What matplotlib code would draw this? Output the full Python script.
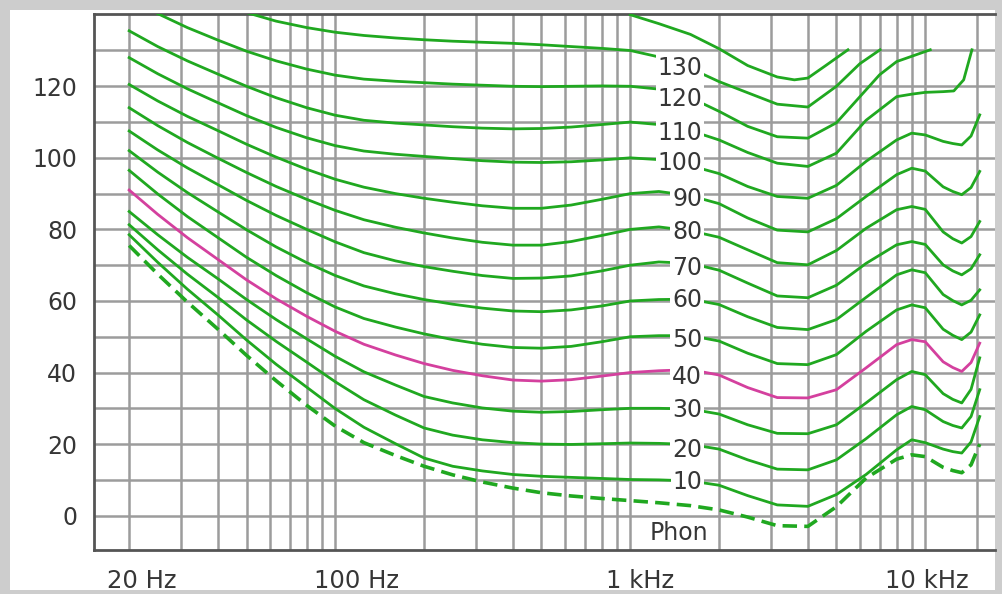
import matplotlib
matplotlib.use("Agg")
import matplotlib.pyplot as plt
import matplotlib.ticker as ticker
from matplotlib.patches import Rectangle
from matplotlib.transforms import ScaledTranslation

# frequency grid (Hz) shared by most contours
freq = [20, 25, 31.5, 40, 50, 63, 80, 100, 125, 160, 200, 250, 315, 400, 500,
        630, 800, 1000, 1250, 1600, 2000, 2500, 3150, 4000, 5000, 6300, 8000,
        9000, 10000, 11500, 12400, 13300, 14300, 15300]

threshold = [75.5, 67.5, 59.7, 52.1, 44.8, 37.7, 30.8, 25.0, 20.4, 16.8, 13.8, 11.4, 9.4, 7.7, 6.4,
             5.5, 4.8, 4.2, 3.6, 2.8, 1.6, -0.4, -2.8, -3.0, 2.5, 10.5, 15.8,
             17.0, 16.5, 13.5, 12.6, 12.0, 14.2, 20.0]
phon_10 = [78.5, 70.8, 63.3, 56.1, 49.1, 42.3, 35.9, 29.9, 24.7, 20.1, 16.1, 13.8, 12.5, 11.5, 11.0,
           10.7, 10.4, 10.1, 10.0, 9.7, 8.5, 5.6, 3.0, 2.6, 5.9, 11.5, 18.4,
           21.2, 20.4, 18.6, 17.9, 17.5, 20.6, 27.7]
phon_20 = [81.3, 74.3, 67.5, 61.0, 54.7, 48.7, 42.9, 37.4, 32.4, 28.1, 24.5, 22.5, 21.2, 20.4, 20.0,
           19.9, 20.1, 20.3, 20.2, 19.9, 18.6, 15.6, 13.0, 12.8, 15.6, 21.5, 28.2,
           30.5, 29.6, 26.3, 25.2, 24.5, 27.7, 35.2]
phon_30 = [85.0, 78.5, 72.2, 66.2, 60.4, 54.8, 49.4, 44.5, 40.2, 36.5, 33.3, 31.5, 30.1, 29.2, 28.9,
           29.1, 29.6, 30.0, 30.0, 29.8, 28.4, 25.4, 23.0, 22.9, 25.4, 31.5, 38.0,
           40.3, 39.4, 34.1, 32.5, 31.5, 35.3, 44.1]
phon_40 = [91.0, 84.2, 77.7, 71.6, 65.9, 60.6, 55.7, 51.5, 47.9, 44.9, 42.5, 40.6, 39.1, 37.9, 37.6,
           38.0, 39.0, 40.0, 40.5, 40.8, 39.3, 35.8, 33.0, 32.9, 35.2, 41.3, 47.8,
           49.2, 48.6, 43.0, 41.4, 40.3, 42.8, 48.2]
phon_50 = [96.5, 89.9, 83.6, 77.7, 72.2, 67.1, 62.3, 58.3, 55.1, 52.7, 50.8, 49.2, 47.9, 47.0, 46.8,
           47.3, 48.6, 50.0, 50.3, 50.3, 48.8, 45.4, 42.5, 42.2, 45.0, 51.5, 57.5,
           58.9, 58.1, 52.1, 50.4, 49.2, 51.3, 56.1]
phon_60 = [102.0, 96.0, 90.3, 84.9, 79.9, 75.1, 70.7, 67.1, 64.2, 62.0, 60.4, 59.1, 58.0, 57.2, 57.0,
           57.5, 58.6, 60.0, 60.4, 60.5, 59.0, 55.6, 52.6, 52.0, 54.8, 61.0, 67.3,
           68.7, 67.9, 61.8, 60.1, 58.9, 60.2, 63.1]
phon_70 = [107.5, 102.2, 97.2, 92.5, 88.1, 83.9, 80.0, 76.5, 73.5, 71.2, 69.6, 68.3, 67.1, 66.3, 66.4,
           67.0, 68.4, 70.0, 70.9, 70.5, 68.6, 65.0, 61.4, 60.9, 64.4, 70.5, 75.7,
           76.6, 75.8, 70.1, 68.4, 67.3, 69.0, 72.9]
phon_80 = [114.0, 109.0, 104.3, 99.9, 95.9, 92.0, 88.4, 85.3, 82.7, 80.6, 79.0, 77.6, 76.4, 75.6, 75.6,
           76.6, 78.3, 80.0, 80.7, 79.6, 77.8, 74.3, 70.7, 70.1, 74.1, 80.3, 85.5,
           86.4, 85.6, 79.3, 77.4, 76.2, 78.0, 82.2]
phon_90 = [120.5, 115.9, 111.6, 107.6, 103.8, 100.2, 96.8, 94.0, 91.8, 90.0, 88.7, 87.6, 86.6, 85.9, 85.9,
           86.8, 88.4, 90.0, 90.6, 89.4, 87.2, 83.2, 79.8, 79.3, 83.0, 89.2, 95.3,
           97.1, 96.3, 91.9, 90.6, 89.7, 91.7, 96.2]
phon_100 = [128.0, 123.5, 119.3, 115.4, 111.8, 108.5, 105.6, 103.4, 101.9, 101.0, 100.4, 99.8, 99.2, 98.8, 98.7,
            98.9, 99.4, 100.0, 99.5, 97.8, 95.6, 92.0, 89.2, 88.7, 92.3, 99.0, 105.0,
            106.9, 106.4, 104.6, 104.0, 103.6, 106.1, 112.0]

freq_110 = [20, 25, 31.5, 40, 50, 63, 80, 100, 125, 160, 200, 250, 315, 400, 500,
            630, 800, 1000, 1250, 1600, 2000, 2500, 3150, 4000, 5000, 6300, 8000,
            9000, 10000, 11500, 12500, 13500, 14400]
phon_110 = [135.5, 131.1, 127.1, 123.4, 120.0, 116.8, 114.0, 111.9, 110.5, 109.7, 109.2, 108.7, 108.3, 108.1, 108.2,
            108.6, 109.3, 110.0, 109.3, 107.6, 105.0, 101.5, 98.5, 97.6, 101.3, 110.5, 117.1,
            117.8, 118.3, 118.5, 118.7, 121.8, 130.2]

freq_120 = [25, 31.5, 40, 50, 63, 80, 100, 125, 160, 200, 250, 315, 400, 500, 630, 800,
            1000, 1250, 1600, 2000, 2500, 3150, 4000, 5000, 6300, 7000, 8000, 10400]
phon_120 = [140.3, 136.4, 132.9, 129.8, 127.1, 124.8, 123.1, 122.0, 121.4, 121.0, 120.6, 120.3, 120.0, 119.9, 120.0, 120.1,
            120.0, 119.2, 116.8, 113.0, 108.8, 105.9, 105.5, 109.8, 119.0, 123.2, 126.9, 130.2]

freq_130 = [50, 63, 80, 100, 125, 160, 200, 250, 315, 400, 500, 630, 800, 1000,
            1250, 1600, 2000, 2500, 3150, 4000, 5000, 6000, 7030]
phon_130 = [140.6, 138.2, 136.4, 135.1, 134.2, 133.5, 133.0, 132.6, 132.3, 132.0, 131.6, 131.1, 130.6, 130.0,
            128.2, 125.0, 121.3, 118.2, 115.0, 114.2, 120.0, 126.3, 130.2]

freq_140 = [1000, 1250, 1600, 2000, 2500, 3150, 3600, 4000, 4600, 5470]
phon_140 = [140.0, 137.5, 134.5, 130.5, 125.8, 122.6, 121.8, 122.3, 125.8, 130.2]

label_text = ["130", "120", "110", "100", "90", "80", "70", "60", "50", "40", "30", "20", "10"]
label_db = [125.1, 116.5, 107.0, 98.6, 88.5, 79.3, 69.3, 60.3, 49.2, 38.8, 29.6, 18.4, 9.5]

x_ticks = [20, 100, 1000, 10000]
x_ticklabels = ["20 Hz", "100 Hz", "1 kHz", "10 kHz"]
x_label_shift = [13, 21, 10, 2]   # px, labels sit a bit right of their gridline
grid_freqs = ([f for f in range(20, 100, 10)] + [f for f in range(100, 1000, 100)] +
              [f for f in range(1000, 10000, 1000)] + [10000, 15000])

GREEN = "#20a820"
MAGENTA = "#d4409e"
GRID = "#9c9c9c"
TEXT = "#363636"

plt.rcParams['font.family'] = ['DejaVu Sans']

fig = plt.figure(figsize=(10.02, 5.94), dpi=100)
fig.patch.set_facecolor("#cdcdcd")
fig.add_artist(Rectangle((10 / 1002, 4 / 594), 985 / 1002, 580 / 594,
                         transform=fig.transFigure, facecolor="white",
                         edgecolor="none", zorder=-5))

ax = fig.add_axes([94 / 1002, 44 / 594, 901 / 1002, 536 / 594])
ax.set_zorder(2)
ax.set_facecolor("white")
ax.set_xscale("log")
ax.set_xlim(15.2, 17240)
ax.set_ylim(-9.6, 140.2)

# grid
for f in grid_freqs:
    ax.axvline(f, color=GRID, lw=1.8, zorder=1)
for db in range(0, 140, 10):
    ax.axhline(db, color=GRID, lw=1.8, zorder=1)

# contours
curves = [
    (freq_140, phon_140), (freq_130, phon_130), (freq_120, phon_120),
    (freq_110, phon_110), (freq, phon_100), (freq, phon_90), (freq, phon_80),
    (freq, phon_70), (freq, phon_60), (freq, phon_50), (freq, phon_30),
    (freq, phon_20), (freq, phon_10),
]
for fx, vals in curves:
    ax.plot(fx, vals, color=GREEN, lw=2.0, zorder=3, solid_joinstyle="round")
ax.plot(freq, phon_40, color=MAGENTA, lw=2.0, zorder=3, solid_joinstyle="round")
ax.plot(freq, threshold, color=GREEN, lw=2.6, ls=(0, (4, 2)), zorder=3)

# phon labels
for txt, db in zip(label_text, label_db):
    ax.text(1751, db, txt, ha="right", va="center", fontsize=17, color=TEXT,
            zorder=4, bbox=dict(facecolor="white", edgecolor="none", pad=1.2))
ax.text(1464, -4.75, "Phon", ha="center", va="center", fontsize=17, color=TEXT, zorder=4)

# axes styling
ax.xaxis.set_major_locator(ticker.FixedLocator(x_ticks))
ax.xaxis.set_major_formatter(ticker.FixedFormatter(x_ticklabels))
ax.xaxis.set_minor_locator(ticker.NullLocator())
ax.yaxis.set_major_locator(ticker.FixedLocator([0, 20, 40, 60, 80, 100, 120]))
ax.tick_params(axis="both", length=0, colors=TEXT)
ax.tick_params(axis="y", pad=12, labelsize=17)
ax.tick_params(axis="x", pad=14, labelsize=17.5)
for lab, dx in zip(ax.get_xticklabels(), x_label_shift):
    lab.set_transform(lab.get_transform() + ScaledTranslation(dx / 100, 0, fig.dpi_scale_trans))

for side in ["left", "bottom", "top"]:
    ax.spines[side].set_color("#555555")
    ax.spines[side].set_linewidth(2)
ax.spines["right"].set_visible(False)

fig.savefig("out.png", dpi=100, facecolor=fig.get_facecolor())
